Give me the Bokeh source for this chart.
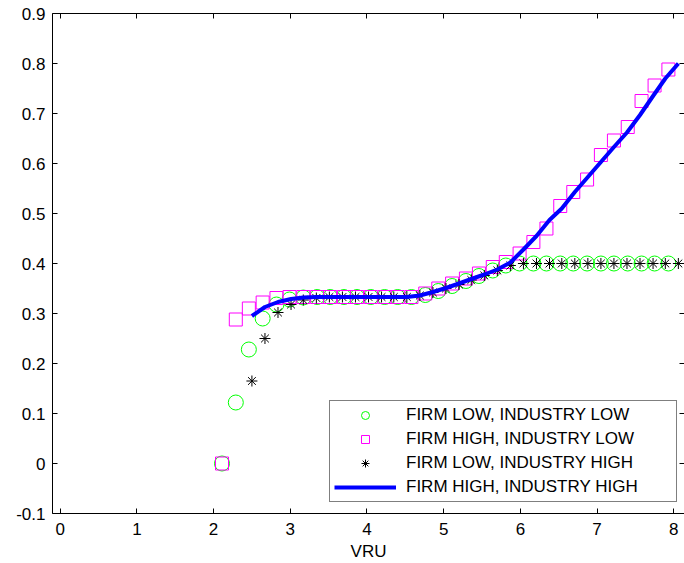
from bokeh.plotting import figure
from bokeh.models import LinearAxis, FixedTicker, Legend, LegendItem, Range1d
from bokeh.embed import file_html
from bokeh.resources import INLINE

# ---- data ----
# grid shared by FIRM LOW/INDUSTRY LOW (circles) and FIRM HIGH/INDUSTRY LOW (squares)
x_low_ind = [2.11, 2.29, 2.46, 2.64, 2.82, 2.99, 3.17, 3.35, 3.52, 3.70,
             3.87, 4.05, 4.23, 4.40, 4.58, 4.76, 4.93, 5.11, 5.29, 5.46,
             5.64, 5.81, 5.99, 6.17, 6.34, 6.52, 6.69, 6.87, 7.05, 7.22,
             7.40, 7.58, 7.75, 7.93]
firm_low_ind_low = [0.0, 0.122, 0.228, 0.290, 0.318, 0.328, 0.332, 0.333, 0.333, 0.333,
                    0.333, 0.333, 0.333, 0.333, 0.333, 0.337, 0.345, 0.355, 0.365, 0.375,
                    0.386, 0.396, 0.400, 0.400, 0.400, 0.400, 0.400, 0.400, 0.400, 0.400,
                    0.400, 0.400, 0.400, 0.400]
firm_high_ind_low = [0.0, 0.288, 0.310, 0.322, 0.331, 0.333, 0.333, 0.333, 0.333, 0.333,
                     0.333, 0.333, 0.333, 0.333, 0.333, 0.340, 0.350, 0.360, 0.370, 0.380,
                     0.393, 0.403, 0.420, 0.443, 0.470, 0.515, 0.543, 0.568, 0.617, 0.646,
                     0.673, 0.725, 0.756, 0.788]

# grid shared by FIRM LOW/INDUSTRY HIGH (stars) and FIRM HIGH/INDUSTRY HIGH (line)
x_high_ind = [2.50, 2.67, 2.84, 3.01, 3.17, 3.34, 3.51, 3.68, 3.85, 4.02,
              4.19, 4.35, 4.52, 4.69, 4.86, 5.03, 5.20, 5.36, 5.53, 5.70,
              5.87, 6.04, 6.21, 6.38, 6.54, 6.71, 6.88, 7.05, 7.22, 7.39,
              7.56, 7.73, 7.89, 8.06]
firm_low_ind_high = [0.165, 0.250, 0.302, 0.318, 0.327, 0.331, 0.333, 0.333, 0.333, 0.333,
                     0.333, 0.333, 0.333, 0.336, 0.342, 0.350, 0.358, 0.367, 0.376, 0.386,
                     0.396, 0.400, 0.400, 0.400, 0.400, 0.400, 0.400, 0.400, 0.400, 0.400,
                     0.400, 0.400, 0.400, 0.400]
firm_high_ind_high = [0.295, 0.313, 0.323, 0.329, 0.332, 0.333, 0.333, 0.333, 0.333, 0.333,
                      0.333, 0.333, 0.333, 0.336, 0.343, 0.351, 0.360, 0.369, 0.378, 0.388,
                      0.402, 0.428, 0.455, 0.487, 0.510, 0.543, 0.573, 0.603, 0.633, 0.662,
                      0.697, 0.735, 0.770, 0.800]

x_ticks = [0, 1, 2, 3, 4, 5, 6, 7, 8]
y_ticks = [-0.1, 0.0, 0.1, 0.2, 0.3, 0.4, 0.5, 0.6, 0.7, 0.8, 0.9]
y_tick_labels = ["-0.1", "0", "0.1", "0.2", "0.3", "0.4", "0.5", "0.6", "0.7", "0.8", "0.9"]

series_names = ["FIRM LOW, INDUSTRY LOW", "FIRM HIGH, INDUSTRY LOW",
                "FIRM LOW, INDUSTRY HIGH", "FIRM HIGH, INDUSTRY HIGH"]
x_label = "VRU"

FONT = "Liberation Sans"
FS = "17px"

p = figure(width=684, height=563, output_backend="svg", toolbar_location=None,
           x_range=Range1d(-0.1, 8.14), y_range=Range1d(-0.1, 0.9),
           min_border_left=52, min_border_right=0, min_border_top=13,
           min_border_bottom=49)
p.background_fill_color = "white"
p.border_fill_color = "white"
p.outline_line_color = None
p.xgrid.visible = False
p.ygrid.visible = False

r_c = p.scatter(x_low_ind, firm_low_ind_low, marker="circle", size=15,
                fill_color=None, line_color="#00ff00", line_width=1)
r_s = p.scatter(x_low_ind, firm_high_ind_low, marker="square", size=13,
                fill_color=None, line_color="#ff00ff", line_width=1)
r_a = p.scatter(x_high_ind, firm_low_ind_high, marker="asterisk", size=11,
                line_color="black", line_width=1)
r_l = p.line(x_high_ind, firm_high_ind_high, line_color="#0000ff", line_width=4)


def style_axis(ax, labels=True):
    ax.axis_line_color = "black"
    ax.axis_line_width = 1
    ax.major_tick_in = 5
    ax.major_tick_out = 0
    ax.minor_tick_line_color = None
    ax.major_tick_line_color = "black"
    if labels:
        ax.major_label_text_font = FONT
        ax.major_label_text_font_size = FS
        ax.major_label_text_color = "black"
    else:
        ax.major_label_text_font_size = "0px"
        ax.major_label_standoff = 0


xa = p.xaxis[0]
xa.ticker = FixedTicker(ticks=x_ticks)
style_axis(xa)
xa.major_label_standoff = 9
xa.axis_label = x_label
xa.axis_label_text_font = FONT
xa.axis_label_text_font_size = FS
xa.axis_label_text_font_style = "normal"
xa.axis_label_text_color = "black"
xa.axis_label_standoff = 4

ya = p.yaxis[0]
ya.ticker = FixedTicker(ticks=y_ticks)
ya.major_label_overrides = dict(zip(y_ticks, y_tick_labels))
style_axis(ya)
ya.major_label_standoff = 7

top = LinearAxis(ticker=FixedTicker(ticks=x_ticks))
style_axis(top, labels=False)
p.add_layout(top, "above")

right = LinearAxis(ticker=FixedTicker(ticks=y_ticks))
style_axis(right, labels=False)
right.axis_line_color = None
p.add_layout(right, "right")

legend = Legend(items=[LegendItem(label=series_names[0], renderers=[r_c]),
                       LegendItem(label=series_names[1], renderers=[r_s]),
                       LegendItem(label=series_names[2], renderers=[r_a]),
                       LegendItem(label=series_names[3], renderers=[r_l])],
                location=(277, 11))
legend.label_text_font = FONT
legend.label_text_font_size = "17px"
legend.label_text_color = "black"
legend.glyph_width = 62
legend.glyph_height = 20
legend.label_height = 20
legend.label_width = 266
legend.label_standoff = 10
legend.padding = 4
legend.margin = 0
legend.spacing = 4
legend.border_line_color = "black"
legend.border_line_width = 1
legend.background_fill_color = "white"
legend.background_fill_alpha = 1.0
p.add_layout(legend, "center")

open("out.html", "w").write(file_html(p, INLINE))
